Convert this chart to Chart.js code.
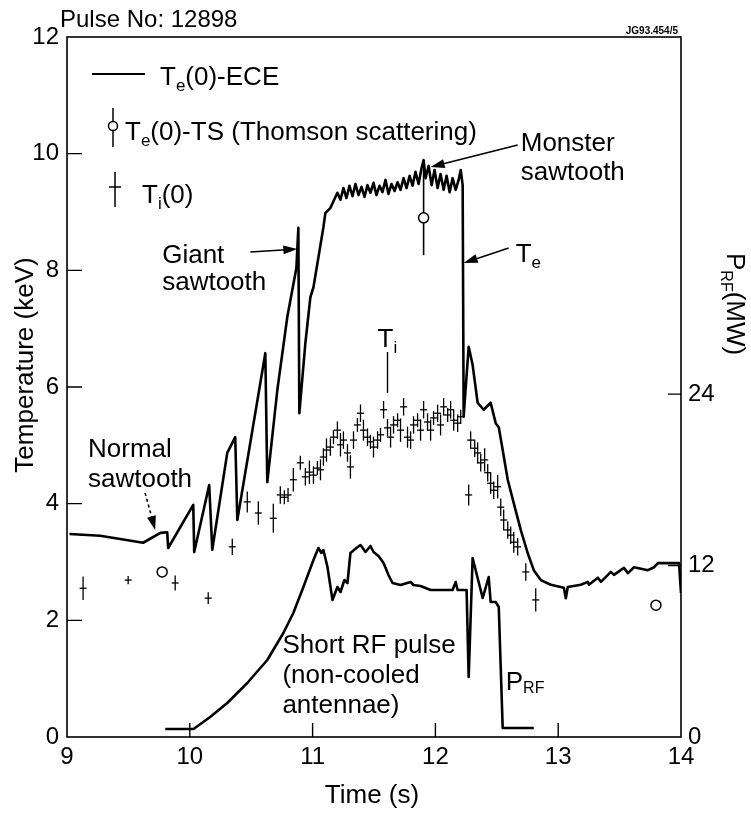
<!DOCTYPE html>
<html><head><meta charset="utf-8">
<script src="https://cdn.jsdelivr.net/npm/chart.js@4.4.0/dist/chart.umd.min.js"></script>
<style>html,body{margin:0;padding:0;background:#fff;}canvas{display:block;}</style>
</head><body>
<canvas id="c" width="751" height="813"></canvas>
<script>
const FONT = '"Liberation Sans", Arial, Helvetica, sans-serif';

// ---- Data ----
const timeTicks = [9, 10, 11, 12, 13, 14];
const tempTicks = [0, 2, 4, 6, 8, 10, 12];
const prfTicks = [0, 12, 24];

// Te(0)-ECE (keV)
const teT = [9.02, 9.27, 9.47, 9.62, 9.76, 9.816, 9.824, 10.028, 10.036, 10.158, 10.183, 10.305, 10.370, 10.387,
  10.615, 10.631, 10.713, 10.794, 10.868, 10.884, 10.892, 10.941, 10.982, 11.007, 11.088, 11.104, 11.145,
  11.202, 11.227, 11.251, 11.276, 11.300, 11.325, 11.349, 11.374, 11.398, 11.423, 11.447, 11.471, 11.496, 11.520,
  11.545, 11.569, 11.594, 11.618, 11.643, 11.667, 11.692, 11.716, 11.741, 11.765, 11.790, 11.814, 11.838, 11.863,
  11.887, 11.904, 11.920, 11.945, 11.969, 11.993, 12.018, 12.042, 12.067, 12.091, 12.116, 12.140, 12.165, 12.189,
  12.206, 12.222, 12.230, 12.271, 12.303, 12.344, 12.393, 12.450, 12.491, 12.516, 12.548, 12.589, 12.638, 12.695,
  12.752, 12.801, 12.858, 12.940, 13.046, 13.062, 13.078, 13.184, 13.241, 13.250, 13.323, 13.348, 13.429, 13.454,
  13.535, 13.568, 13.617, 13.731, 13.780, 13.812, 13.943, 13.984, 14.0];
const teV = [3.48, 3.45, 3.38, 3.33, 3.50, 3.51, 3.24, 3.98, 3.17, 4.32, 3.21, 4.87, 5.14, 3.72,
  6.58, 4.37, 5.95, 7.20, 8.04, 8.73, 5.55, 6.75, 7.54, 7.71, 8.74, 8.98, 9.07,
  9.33, 9.21, 9.41, 9.24, 9.45, 9.27, 9.48, 9.29, 9.43, 9.26, 9.46, 9.33, 9.50, 9.29,
  9.45, 9.34, 9.55, 9.31, 9.48, 9.36, 9.51, 9.38, 9.58, 9.41, 9.62, 9.45, 9.69, 9.48,
  9.75, 9.89, 9.58, 9.79, 9.46, 9.72, 9.41, 9.65, 9.38, 9.62, 9.34, 9.58, 9.38, 9.55,
  9.72, 9.46, 5.49, 6.69, 6.38, 5.73, 5.61, 5.73, 5.38, 5.31, 4.92, 4.41, 4.01, 3.55,
  3.15, 2.86, 2.69, 2.61, 2.56, 2.38, 2.57, 2.61, 2.66, 2.61, 2.73, 2.66, 2.83, 2.78,
  2.90, 2.81, 2.91, 2.86, 2.91, 2.98, 2.98, 2.98, 2.47];

// P_RF (MW)
const prfT = [9.80, 10.03, 10.166, 10.305, 10.468, 10.631, 10.762, 10.843, 10.925, 11.007, 11.047, 11.072, 11.088,
  11.121, 11.162, 11.202, 11.227, 11.259, 11.284, 11.308, 11.357, 11.390, 11.431, 11.471, 11.496, 11.537, 11.578,
  11.618, 11.651, 11.716, 11.798, 11.822, 11.879, 11.961, 12.042, 12.140, 12.165, 12.181, 12.254, 12.271, 12.303,
  12.385, 12.434, 12.450, 12.491, 12.516, 12.548, 12.801];
const prfV = [0.56, 0.56, 1.40, 2.38, 3.78, 5.39, 7.28, 8.68, 10.50, 12.39, 13.23, 12.88, 13.09,
  11.90, 9.59, 10.50, 10.15, 10.99, 10.78, 12.88, 13.23, 13.44, 12.95, 13.37, 12.95, 12.67, 12.18,
  11.34, 10.78, 10.64, 10.85, 10.64, 10.57, 10.29, 10.29, 10.29, 10.85, 10.29, 10.29, 4.20, 12.53,
  9.73, 11.20, 9.45, 9.45, 9.10, 0.63, 0.63];

// Ti(0) (keV) with error half-widths
const tiT = [9.131, 9.498, 9.881, 10.150, 10.346, 10.468, 10.558, 10.680, 10.737, 10.770, 10.800, 10.843, 10.900,
  10.941, 10.974, 11.007, 11.039, 11.064, 11.088, 11.113, 11.145, 11.170, 11.202, 11.227, 11.251, 11.284, 11.308,
  11.333, 11.365, 11.390, 11.414, 11.447, 11.471, 11.496, 11.529, 11.553, 11.578, 11.610, 11.635, 11.659, 11.692,
  11.716, 11.741, 11.773, 11.798, 11.822, 11.855, 11.879, 11.904, 11.936, 11.961, 11.985, 12.018, 12.042, 12.067,
  12.100, 12.124, 12.149, 12.181, 12.206, 12.271, 12.287, 12.320, 12.344, 12.369, 12.401, 12.426, 12.450, 12.475,
  12.507, 12.532, 12.556, 12.589, 12.613, 12.638, 12.670, 12.736, 12.817];
const tiV = [2.55, 2.69, 2.64, 2.38, 3.26, 4.03, 3.84, 3.75, 4.15, 4.11, 4.15, 4.41, 4.70,
  4.46, 4.54, 4.49, 4.61, 4.58, 4.80, 4.92, 4.97, 5.14, 5.26, 5.01, 5.09, 4.87, 4.63,
  5.09, 5.35, 5.55, 5.26, 5.14, 5.06, 4.97, 5.09, 5.18, 5.61, 5.30, 5.14, 5.35, 5.43,
  5.26, 5.66, 5.14, 5.09, 5.35, 5.43, 5.26, 5.61, 5.40, 5.26, 5.47, 5.55, 5.35, 5.66,
  5.52, 5.61, 5.43, 5.38, 5.49, 4.15, 5.09, 4.95, 4.87, 4.70, 4.75, 4.53, 4.35, 4.23,
  4.29, 3.94, 3.72, 3.55, 3.46, 3.34, 3.26, 2.83, 2.35];
const tiErr = [0.20, 0.07, 0.13, 0.10, 0.14, 0.18, 0.20, 0.25, 0.15, 0.12, 0.12, 0.20, 0.12,
  0.15, 0.20, 0.15, 0.12, 0.18, 0.15, 0.20, 0.15, 0.12, 0.15, 0.20, 0.15, 0.15, 0.20,
  0.15, 0.12, 0.15, 0.18, 0.15, 0.12, 0.18, 0.15, 0.12, 0.15, 0.15, 0.18, 0.15, 0.12,
  0.20, 0.15, 0.18, 0.15, 0.15, 0.12, 0.18, 0.15, 0.15, 0.18, 0.12, 0.15, 0.18, 0.15,
  0.12, 0.15, 0.18, 0.15, 0.12, 0.18, 0.15, 0.15, 0.18, 0.15, 0.20, 0.15, 0.18, 0.15,
  0.20, 0.15, 0.18, 0.15, 0.15, 0.18, 0.15, 0.15, 0.20];

// Te(0)-TS (keV)
const tsT = [9.775, 11.904, 13.796];
const tsV = [2.83, 8.90, 2.26];
const tsLo = [2.83, 8.26, 2.26];
const tsHi = [2.83, 9.89, 2.26];

const toXY = (xs, ys) => xs.map((x, i) => ({ x, y: ys[i] }));

// ---- helpers ----
function font(sz, bold) { return (bold ? 'bold ' : '') + sz + 'px ' + FONT; }
function rich(ctx, x, y, segs) {
  let cx = x;
  for (const s of segs) {
    const [txt, sz, dy] = s;
    ctx.font = font(sz);
    ctx.fillText(txt, cx, y + (dy || 0));
    cx += ctx.measureText(txt).width;
  }
}
function arrow(ctx, x1, y1, x2, y2, dashed) {
  ctx.save();
  ctx.lineWidth = 1.6;
  if (dashed) ctx.setLineDash([3, 3]);
  const a = Math.atan2(y2 - y1, x2 - x1);
  const hl = 14, hw = 4.5;
  ctx.beginPath();
  ctx.moveTo(x1, y1);
  ctx.lineTo(x2 - Math.cos(a) * hl * 0.8, y2 - Math.sin(a) * hl * 0.8);
  ctx.stroke();
  ctx.setLineDash([]);
  ctx.beginPath();
  ctx.moveTo(x2, y2);
  ctx.lineTo(x2 - Math.cos(a) * hl - Math.sin(a) * hw, y2 - Math.sin(a) * hl + Math.cos(a) * hw);
  ctx.lineTo(x2 - Math.cos(a) * hl + Math.sin(a) * hw, y2 - Math.sin(a) * hl - Math.cos(a) * hw);
  ctx.closePath();
  ctx.fill();
  ctx.restore();
}

const deco = {
  id: 'deco',
  beforeDatasetDraw(chart, args) {
    if (args.index !== 0) return;
    const { ctx, scales: { x, y } } = chart;
    ctx.save();
    ctx.strokeStyle = '#000';
    ctx.lineWidth = 1.6;
    tsT.forEach((t, i) => {
      if (tsHi[i] === tsLo[i]) return;
      const px = x.getPixelForValue(t);
      ctx.beginPath();
      ctx.moveTo(px, y.getPixelForValue(tsLo[i]));
      ctx.lineTo(px, y.getPixelForValue(tsHi[i]));
      ctx.stroke();
    });
    ctx.restore();
  },
  afterDatasetsDraw(chart) {
    const { ctx, scales: { x, y } } = chart;
    ctx.save();
    ctx.strokeStyle = '#000';
    ctx.lineWidth = 1.3;
    tiT.forEach((t, i) => {
      const px = x.getPixelForValue(t);
      ctx.beginPath();
      ctx.moveTo(px, y.getPixelForValue(tiV[i] - tiErr[i]));
      ctx.lineTo(px, y.getPixelForValue(tiV[i] + tiErr[i]));
      ctx.stroke();
    });
    ctx.restore();
  },
  afterDraw(chart) {
    const { ctx, chartArea: ca, scales: { x, y, y2 } } = chart;
    const P = (t, v) => [x.getPixelForValue(t), y.getPixelForValue(v)];
    ctx.save();
    ctx.fillStyle = '#000';
    ctx.strokeStyle = '#000';
    // frame
    ctx.lineWidth = 1.6;
    ctx.strokeRect(ca.left, ca.top, ca.right - ca.left, ca.bottom - ca.top);
    // inner ticks
    ctx.lineWidth = 1.4;
    ctx.beginPath();
    tempTicks.slice(1, -1).forEach(v => {
      const py = y.getPixelForValue(v);
      ctx.moveTo(ca.left, py); ctx.lineTo(ca.left + 15, py);
    });
    timeTicks.slice(1, -1).forEach(t => {
      const px = x.getPixelForValue(t);
      ctx.moveTo(px, ca.bottom); ctx.lineTo(px, ca.bottom - 14);
    });
    prfTicks.slice(1).forEach(v => {
      const py = y2.getPixelForValue(v);
      ctx.moveTo(ca.right, py); ctx.lineTo(ca.right - 13, py);
    });
    ctx.stroke();

    ctx.textBaseline = 'alphabetic';
    ctx.textAlign = 'left';
    // header texts
    ctx.font = font(24);
    ctx.fillText('Pulse No: 12898', 60, 27);
    ctx.font = font(10, true);
    ctx.textAlign = 'right';
    ctx.fillText('JG93.454/5', ca.right - 3, ca.top - 3);
    ctx.textAlign = 'left';

    // axis titles
    ctx.save();
    ctx.translate(33, 365);
    ctx.rotate(-Math.PI / 2);
    ctx.textAlign = 'center';
    ctx.font = font(26);
    ctx.fillText('Temperature (keV)', 0, 0);
    ctx.restore();
    ctx.textAlign = 'center';
    ctx.font = font(26);
    ctx.fillText('Time (s)', 372, 803);
    ctx.textAlign = 'left';
    ctx.save();
    ctx.translate(727, 253);
    ctx.rotate(Math.PI / 2);
    rich(ctx, 0, 0, [['P', 26], ['RF', 16, 6], ['(MW)', 26]]);
    ctx.restore();

    // legend
    ctx.lineWidth = 1.8;
    ctx.beginPath(); ctx.moveTo(92, 74); ctx.lineTo(145, 74); ctx.stroke();
    rich(ctx, 160, 85, [['T', 26], ['e', 17, 6], ['(0)-ECE', 26]]);
    ctx.lineWidth = 1.5;
    ctx.beginPath(); ctx.moveTo(113, 108); ctx.lineTo(113, 147); ctx.stroke();
    ctx.beginPath(); ctx.arc(113, 126, 4.5, 0, Math.PI * 2);
    ctx.fillStyle = '#fff'; ctx.fill(); ctx.stroke(); ctx.fillStyle = '#000';
    rich(ctx, 125, 140, [['T', 26], ['e', 17, 6], ['(0)-TS (Thomson scattering)', 26]]);
    ctx.beginPath(); ctx.moveTo(115, 172); ctx.lineTo(115, 207); ctx.moveTo(109, 187); ctx.lineTo(121, 187); ctx.stroke();
    rich(ctx, 142, 203, [['T', 26], ['i', 17, 6], ['(0)', 26]]);

    // annotations
    let p = P(9.775, 8.126); rich(ctx, p[0], p[1], [['Giant', 26]]);
    p = P(9.775, 7.663); rich(ctx, p[0], p[1], [['sawtooth', 26]]);
    let a = P(10.493, 8.315), b = P(10.876, 8.366); arrow(ctx, a[0], a[1], b[0], b[1]);

    p = P(12.695, 10.046); rich(ctx, p[0], p[1], [['Monster', 26]]);
    p = P(12.695, 9.549); rich(ctx, p[0], p[1], [['sawtooth', 26]]);
    a = P(12.670, 10.149); b = P(11.961, 9.772); arrow(ctx, a[0], a[1], b[0], b[1]);

    p = P(12.654, 8.143); rich(ctx, p[0], p[1], [['T', 26], ['e', 17, 6]]);
    a = P(12.597, 8.383); b = P(12.230, 8.126); arrow(ctx, a[0], a[1], b[0], b[1]);

    p = P(11.529, 6.686); rich(ctx, p[0], p[1], [['T', 26], ['i', 17, 6]]);
    a = P(11.610, 6.600); b = P(11.610, 5.897);
    ctx.lineWidth = 1.4; ctx.beginPath(); ctx.moveTo(a[0], a[1]); ctx.lineTo(b[0], b[1]); ctx.stroke();

    p = P(9.171, 4.800); rich(ctx, p[0], p[1], [['Normal', 26]]);
    p = P(9.171, 4.286); rich(ctx, p[0], p[1], [['sawtooth', 26]]);
    a = P(9.636, 4.183); b = P(9.718, 3.549); arrow(ctx, a[0], a[1], b[0], b[1], true);

    p = P(10.754, 1.440); rich(ctx, p[0], p[1], [['Short RF pulse', 26]]);
    p = P(10.754, 0.926); rich(ctx, p[0], p[1], [['(non-cooled', 26]]);
    p = P(10.754, 0.411); rich(ctx, p[0], p[1], [['antennae)', 26]]);

    p = P(12.573, 0.806); rich(ctx, p[0], p[1], [['P', 26], ['RF', 16, 3]]);
    ctx.restore();
  }
};

const tickFont = { family: FONT, size: 24 };
new Chart(document.getElementById('c'), {
  type: 'line',
  data: {
    datasets: [
      { label: 'Te(0)-TS', data: toXY(tsT, tsV), yAxisID: 'y', showLine: false, pointStyle: 'circle',
        pointRadius: 5, pointBackgroundColor: '#fff', pointBorderColor: '#000', pointBorderWidth: 1.5 },
      { label: 'Ti(0)', data: toXY(tiT, tiV), yAxisID: 'y', showLine: false, pointStyle: 'line',
        pointRadius: 3.5, pointBorderColor: '#000', pointBorderWidth: 1.3 },
      { label: 'Te(0)-ECE', data: toXY(teT, teV), yAxisID: 'y', borderColor: '#000', borderWidth: 2.6,
        pointRadius: 0, tension: 0, borderJoinStyle: 'round' },
      { label: 'PRF', data: toXY(prfT, prfV), yAxisID: 'y2', borderColor: '#000', borderWidth: 2.6,
        pointRadius: 0, tension: 0, borderJoinStyle: 'round' }
    ]
  },
  options: {
    responsive: false, animation: false, devicePixelRatio: 1,
    layout: { padding: { top: 37, left: 0, right: 0, bottom: 0 } },
    plugins: { legend: { display: false }, tooltip: { enabled: false } },
    scales: {
      x: { type: 'linear', min: 9, max: 14,
        afterBuildTicks: s => { s.ticks = timeTicks.map(v => ({ value: v })); },
        ticks: { font: tickFont, color: '#000', padding: 6, maxRotation: 0, callback: v => String(v) },
        grid: { display: false, drawTicks: false }, border: { display: false },
        afterFit: s => { s.height = 76; } },
      y: { type: 'linear', position: 'left', min: 0, max: 12,
        afterBuildTicks: s => { s.ticks = tempTicks.map(v => ({ value: v })); },
        ticks: { font: tickFont, color: '#000', padding: 8, callback: v => String(v) },
        grid: { display: false, drawTicks: false }, border: { display: false },
        afterFit: s => { s.width = 67; } },
      y2: { type: 'linear', position: 'right', min: 0, max: 49,
        afterBuildTicks: s => { s.ticks = prfTicks.map(v => ({ value: v })); },
        ticks: { font: tickFont, color: '#000', padding: 7, callback: v => String(v) },
        grid: { display: false, drawTicks: false }, border: { display: false },
        afterFit: s => { s.width = 70; } }
    }
  },
  plugins: [deco]
});
</script>
</body></html>
